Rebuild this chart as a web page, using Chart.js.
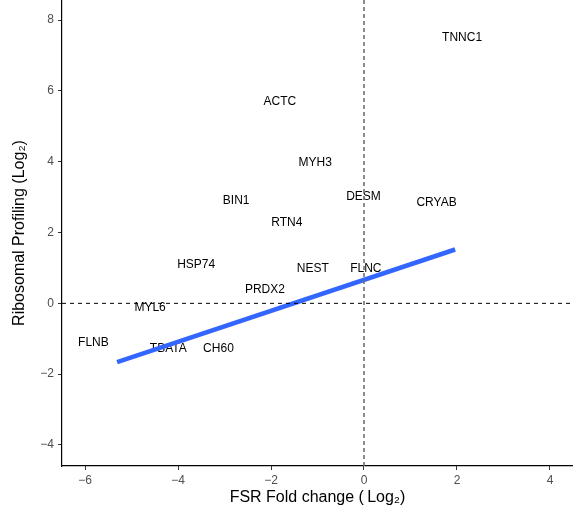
<!DOCTYPE html>
<html>
<head>
<meta charset="utf-8">
<script src="https://cdn.jsdelivr.net/npm/chart.js@4/dist/chart.umd.min.js"></script>
<style>
  html, body { margin: 0; padding: 0; background: #ffffff; }
  #wrap { width: 573px; height: 513px; position: relative; }
</style>
</head>
<body>
<div id="wrap"><canvas id="chart"></canvas></div>
<script>
// Gene labels with their FSR fold change (x) and ribosomal profiling (y), both log2
const geneNames = ['TNNC1', 'ACTC', 'MYH3', 'DESM', 'CRYAB', 'BIN1', 'RTN4', 'HSP74',
                   'NEST', 'FLNC', 'PRDX2', 'MYL6', 'FLNB', 'TBATA', 'CH60'];
const fsrFold = [2.11, -1.81, -1.05, -0.01, 1.56, -2.75, -1.66, -3.61,
                 -1.10, 0.04, -2.13, -4.60, -5.82, -4.21, -3.13];
const riboProfiling = [7.49, 5.69, 3.96, 3.00, 2.84, 2.91, 2.27, 1.10,
                       0.98, 0.98, 0.39, -0.13, -1.12, -1.27, -1.27];

// Linear fit, drawn between its two end points
const fitX = [-5.31, 1.96];
const fitY = [-1.66, 1.52];

// Axis limits and tick values
const xLimits = [-6.495, 4.495];
const yLimits = [-4.593, 8.565];
const xTicks = [-6, -4, -2, 0, 2, 4];
const yTicks = [-4, -2, 0, 2, 4, 6, 8];

const FONT = "'Liberation Sans', Arial, Helvetica, sans-serif";
Chart.defaults.font.family = FONT;

const minus = v => String(v).replace('-', '\u2212');

// Writes each gene name centred on its point
const geneLabels = {
  id: 'geneLabels',
  afterDatasetDraw(chart, args) {
    if (chart.data.datasets[args.index].id !== 'genes') return;
    const ctx = chart.ctx;
    ctx.save();
    ctx.font = '12px ' + FONT;
    ctx.fillStyle = '#000000';
    ctx.textAlign = 'center';
    ctx.textBaseline = 'middle';
    args.meta.data.forEach((pt, i) => {
      ctx.fillText(geneNames[i], pt.x, pt.y);
    });
    ctx.restore();
  }
};

new Chart(document.getElementById('chart'), {
  type: 'scatter',
  data: {
    datasets: [
      {
        id: 'genes',
        data: fsrFold.map((x, i) => ({ x: x, y: riboProfiling[i] })),
        pointRadius: 0,
        pointHoverRadius: 0,
        showLine: false,
        order: 4
      },
      {
        data: fitX.map((x, i) => ({ x: x, y: fitY[i] })),
        showLine: true,
        borderColor: '#3366FF',
        borderWidth: 4.5,
        pointRadius: 0,
        borderCapStyle: 'butt',
        order: 3
      },
      {
        // horizontal reference at y = 0
        data: [{ x: xLimits[0], y: 0 }, { x: xLimits[1], y: 0 }],
        showLine: true,
        borderColor: '#000000',
        borderWidth: 1,
        borderDash: [4, 4],
        pointRadius: 0,
        order: 2
      },
      {
        // vertical reference at x = 0
        data: [{ x: 0, y: yLimits[0] }, { x: 0, y: yLimits[1] }],
        showLine: true,
        borderColor: '#707070',
        borderWidth: 1.6,
        borderDash: [4, 3],
        pointRadius: 0,
        order: 1
      }
    ]
  },
  options: {
    responsive: true,
    maintainAspectRatio: false,
    animation: false,
    events: [],
    layout: { padding: 0 },
    plugins: {
      legend: { display: false },
      tooltip: { enabled: false }
    },
    scales: {
      x: {
        type: 'linear',
        min: xLimits[0],
        max: xLimits[1],
        afterBuildTicks: s => { s.ticks = xTicks.map(v => ({ value: v })); },
        afterFit: s => { s.height = 47; s.paddingLeft = 0; s.paddingRight = 0; },
        grid: { display: true, drawOnChartArea: false, drawTicks: true, tickLength: 4, color: '#333333', lineWidth: 1 },
        border: { display: true, color: '#000000', width: 1.2 },
        ticks: { color: '#4D4D4D', font: { size: 12 }, padding: 3, callback: v => minus(v), autoSkip: false, maxRotation: 0 },
        title: {
          display: true,
          text: 'FSR Fold change (\u2009Log\u2082)',
          color: '#000000',
          font: { size: 16 },
          padding: { top: 0, bottom: 5.4 }
        }
      },
      y: {
        type: 'linear',
        min: yLimits[0],
        max: yLimits[1],
        afterBuildTicks: s => { s.ticks = yTicks.map(v => ({ value: v })); },
        afterFit: s => { s.width = 62; s.paddingTop = 0; s.paddingBottom = 0; },
        grid: { display: true, drawOnChartArea: false, drawTicks: true, tickLength: 4, color: '#333333', lineWidth: 1 },
        border: { display: true, color: '#000000', width: 1.2 },
        ticks: { color: '#4D4D4D', font: { size: 12 }, padding: 4, callback: v => minus(v), autoSkip: false },
        title: {
          display: true,
          text: 'Ribosomal Profiling (Log\u2082)',
          color: '#000000',
          font: { size: 16 },
          padding: { top: 10, bottom: 0 }
        }
      }
    }
  },
  plugins: [geneLabels]
});
</script>
</body>
</html>
